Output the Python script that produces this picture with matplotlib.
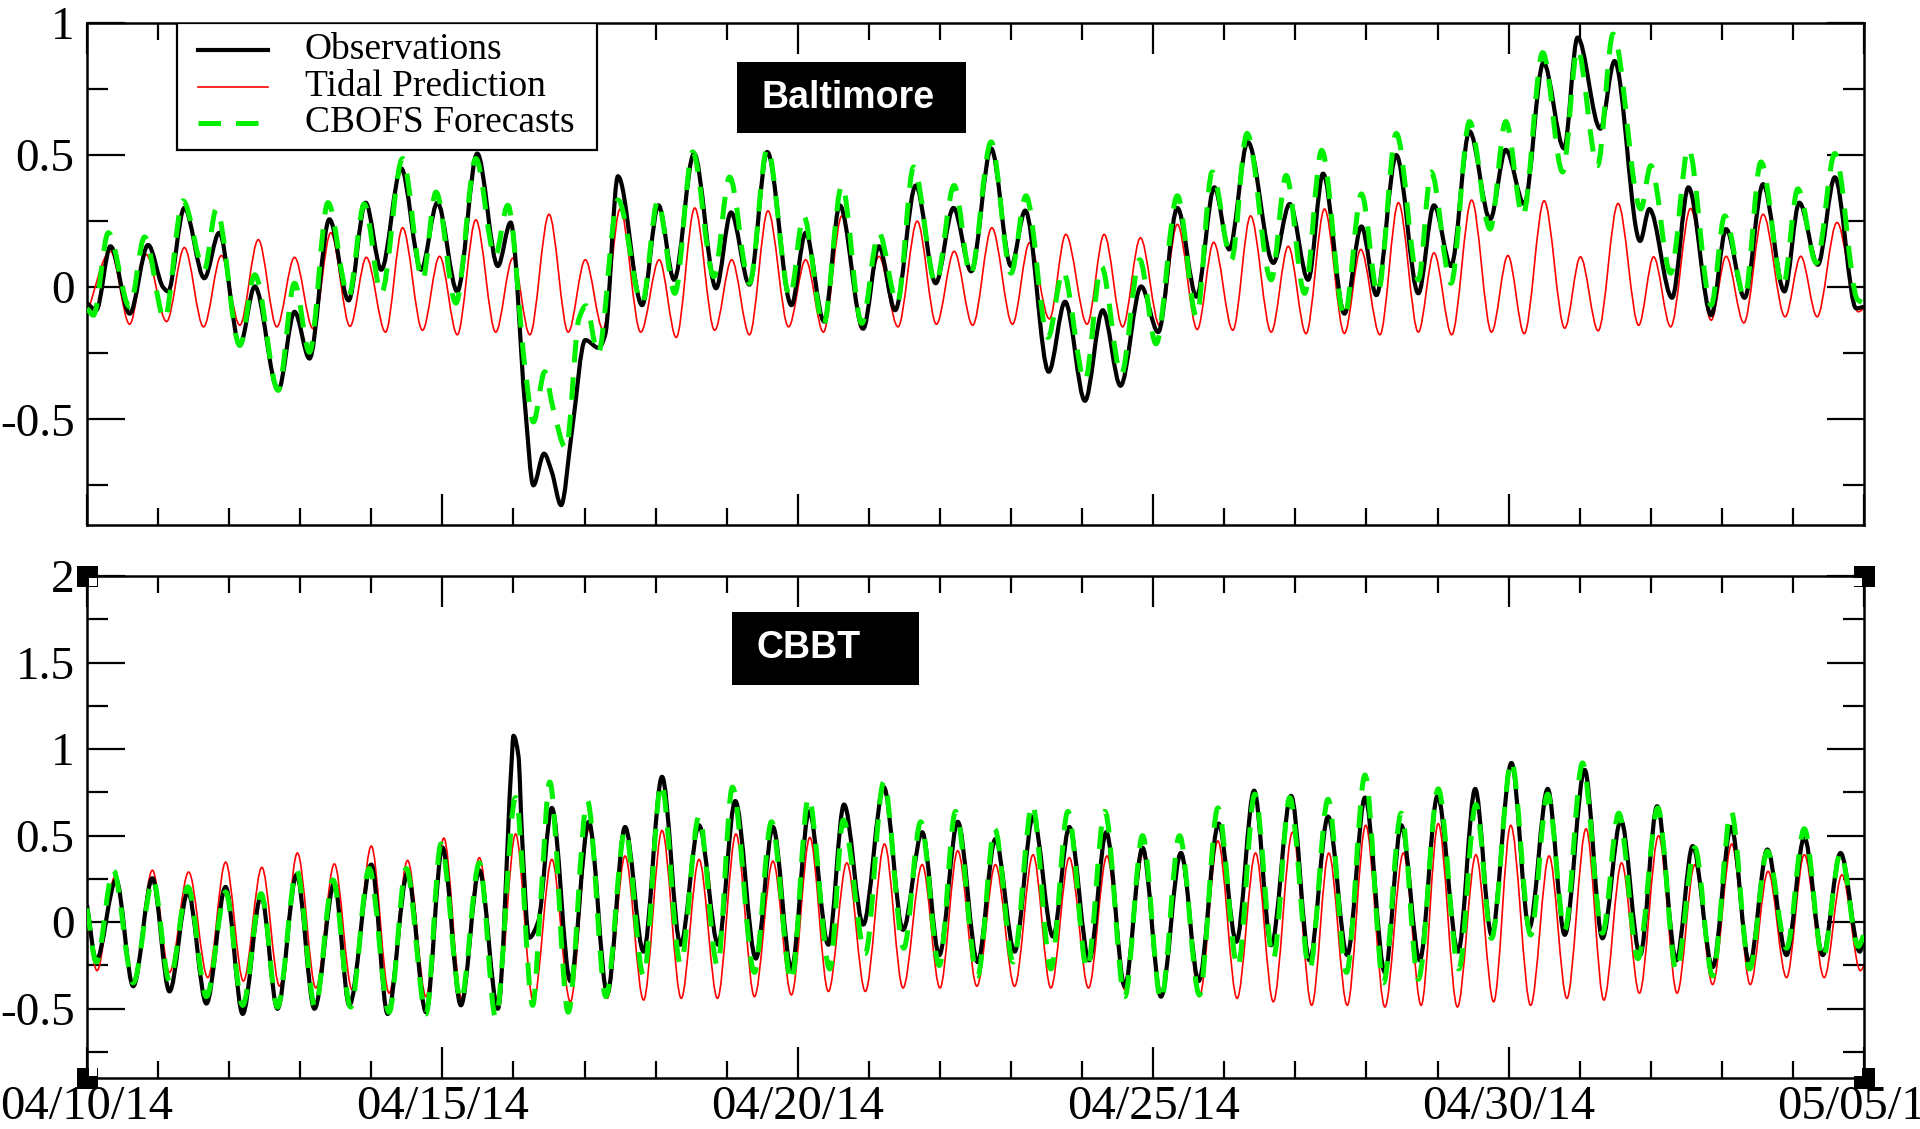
import matplotlib
matplotlib.use("Agg")
import matplotlib.pyplot as plt
from matplotlib.patches import Rectangle, PathPatch
from matplotlib.path import Path
from matplotlib.lines import Line2D
from matplotlib.ticker import MultipleLocator, FixedLocator

# ---------------- data (time in days since 04/10/14 00:00, water level in m) -------------
x_tick_days = [0, 5, 10, 15, 20, 25]
x_tick_labels = ["04/10/14", "04/15/14", "04/20/14", "04/25/14", "04/30/14", "05/05/14"]
legend_labels = ["Observations", "Tidal Prediction", "CBOFS Forecasts"]
station_names = ["Baltimore", "CBBT"]

balt_tide_t = [0.00, 0.33, 0.60, 0.83, 1.12, 1.37, 1.64, 1.89, 2.15, 2.41, 2.67, 2.92, 3.18, 3.43,
               3.70, 3.93, 4.20, 4.44, 4.72, 4.96, 5.21, 5.47, 5.75, 5.99, 6.23, 6.50, 6.77, 7.01,
               7.26, 7.50, 7.79, 8.05, 8.29, 8.55, 8.83, 9.07, 9.32, 9.58, 9.87, 10.11, 10.36,
               10.62, 10.90, 11.14, 11.41, 11.68, 11.95, 12.20, 12.46, 12.73, 13.02, 13.26, 13.54,
               13.77, 14.07, 14.31, 14.57, 14.82, 15.09, 15.34, 15.62, 15.85, 16.12, 16.37, 16.66,
               16.90, 17.15, 17.41, 17.69, 17.92, 18.19, 18.45, 18.73, 18.95, 19.20, 19.48, 19.76,
               19.99, 20.22, 20.50, 20.79, 21.01, 21.26, 21.54, 21.83, 22.04, 22.28, 22.56, 22.85,
               23.06, 23.31, 23.58, 23.89, 24.11, 24.34, 24.62, 24.92, 25.00]
balt_tide_v = [-0.10, 0.136, -0.14, 0.124, -0.13, 0.15, -0.15, 0.12, -0.144, 0.18, -0.15, 0.113,
               -0.157, 0.206, -0.148, 0.113, -0.17, 0.225, -0.163, 0.117, -0.18, 0.255, -0.17, 0.11,
               -0.18, 0.276, -0.17, 0.104, -0.16, 0.296, -0.17, 0.104, -0.19, 0.30, -0.163, 0.104,
               -0.18, 0.289, -0.15, 0.104, -0.17, 0.27, -0.16, 0.117, -0.15, 0.25, -0.14, 0.136,
               -0.144, 0.225, -0.14, 0.168, -0.12, 0.20, -0.14, 0.20, -0.15, 0.187, -0.145, 0.238,
               -0.16, 0.17, -0.163, 0.27, -0.17, 0.155, -0.176, 0.296, -0.175, 0.143, -0.18, 0.32,
               -0.17, 0.13, -0.18, 0.33, -0.17, 0.12, -0.176, 0.327, -0.155, 0.115, -0.165, 0.317,
               -0.144, 0.115, -0.15, 0.298, -0.125, 0.117, -0.135, 0.276, -0.112, 0.117, -0.112,
               0.245, -0.093, -0.08]

balt_obs_t = [0.00, 0.13, 0.33, 0.60, 0.86, 1.07, 1.14, 1.37, 1.65, 1.86, 2.15, 2.36, 2.69, 2.92,
              3.13, 3.41, 3.68, 3.92, 4.14, 4.42, 4.70, 4.93, 5.21, 5.49, 5.78, 5.96, 6.16, 6.28,
              6.43, 6.54, 6.67, 6.82, 7.01, 7.20, 7.29, 7.47, 7.81, 8.04, 8.26, 8.54, 8.85, 9.06,
              9.32, 9.57, 9.91, 10.11, 10.37, 10.59, 10.92, 11.14, 11.37, 11.66, 11.94, 12.19,
              12.44, 12.72, 13.00, 13.20, 13.53, 13.76, 14.04, 14.29, 14.54, 14.83, 15.07, 15.34,
              15.61, 15.86, 16.07, 16.33, 16.69, 16.92, 17.18, 17.39, 17.69, 17.93, 18.14, 18.42,
              18.73, 18.95, 19.19, 19.45, 19.74, 19.96, 20.22, 20.49, 20.78, 20.97, 21.29, 21.49,
              21.85, 21.98, 22.30, 22.53, 22.85, 23.06, 23.32, 23.58, 23.88, 24.09, 24.35, 24.59,
              24.89, 25.00]
balt_obs_v = [-0.06, -0.087, 0.155, -0.10, 0.16, 0.0, -0.016, 0.30, 0.034, 0.206, -0.22, 0.003,
              -0.39, -0.093, -0.27, 0.257, -0.05, 0.32, 0.066, 0.45, 0.066, 0.32, -0.016, 0.506,
              0.08, 0.245, -0.44, -0.75, -0.63, -0.70, -0.825, -0.55, -0.20, -0.23, -0.18, 0.42,
              -0.068, 0.31, 0.028, 0.506, -0.004, 0.283, 0.01, 0.512, -0.068, 0.206, -0.13, 0.31,
              -0.157, 0.155, -0.087, 0.385, 0.015, 0.30, 0.06, 0.525, 0.08, 0.29, -0.32, -0.055,
              -0.43, -0.087, -0.373, 0.003, -0.17, 0.30, -0.036, 0.378, 0.143, 0.55, 0.092, 0.315,
              0.028, 0.43, -0.10, 0.23, -0.03, 0.50, -0.023, 0.31, 0.08, 0.59, 0.257, 0.52, 0.315,
              0.85, 0.525, 0.945, 0.60, 0.856, 0.175, 0.296, -0.04, 0.378, -0.106, 0.22, -0.04,
              0.39, -0.016, 0.32, 0.085, 0.416, -0.08, -0.074]

balt_fc_t = [0.00, 0.09, 0.30, 0.60, 0.81, 1.09, 1.35, 1.65, 1.82, 2.15, 2.36, 2.69, 2.92, 3.13,
             3.39, 3.68, 3.90, 4.14, 4.44, 4.72, 4.91, 5.19, 5.47, 5.74, 5.92, 6.16, 6.28, 6.44,
             6.55, 6.74, 6.92, 7.02, 7.19, 7.47, 7.81, 8.03, 8.27, 8.52, 8.82, 9.04, 9.32, 9.57,
             9.89, 10.08, 10.36, 10.62, 10.90, 11.14, 11.40, 11.63, 11.94, 12.20, 12.43, 12.72,
             13.00, 13.21, 13.52, 13.73, 14.04, 14.27, 14.55, 14.81, 15.04, 15.34, 15.61, 15.83,
             16.10, 16.32, 16.66, 16.87, 17.13, 17.37, 17.69, 17.93, 18.16, 18.42, 18.73, 18.91,
             19.19, 19.45, 19.74, 19.96, 20.20, 20.48, 20.76, 20.97, 21.25, 21.47, 21.86, 22.00,
             22.28, 22.53, 22.85, 23.04, 23.32, 23.55, 23.86, 24.07, 24.33, 24.59, 24.91, 25.00]
balt_fc_v = [-0.08, -0.106, 0.206, -0.074, 0.19, -0.12, 0.327, 0.066, 0.296, -0.22, 0.047, -0.39,
             0.015, -0.246, 0.32, -0.036, 0.315, -0.023, 0.487, 0.028, 0.36, -0.06, 0.487, 0.117,
             0.31, -0.30, -0.51, -0.32, -0.45, -0.61, -0.12, -0.07, -0.25, 0.33, -0.06, 0.327,
             -0.023, 0.512, 0.04, 0.417, 0.015, 0.525, -0.036, 0.27, -0.144, 0.385, -0.137, 0.206,
             -0.06, 0.455, 0.015, 0.385, 0.047, 0.55, 0.053, 0.346, -0.19, 0.06, -0.354, 0.079,
             -0.33, 0.104, -0.214, 0.346, -0.112, 0.436, 0.104, 0.582, 0.028, 0.423, -0.023, 0.518,
             -0.112, 0.353, -0.023, 0.582, 0.028, 0.436, 0.015, 0.627, 0.22, 0.627, 0.27, 0.888,
             0.436, 0.90, 0.46, 0.958, 0.296, 0.46, 0.053, 0.525, -0.068, 0.27, -0.036, 0.474,
             0.003, 0.372, 0.092, 0.506, -0.048, -0.06]

cbbt_tide_t = [0.00, 0.14, 0.39, 0.65, 0.92, 1.16, 1.43, 1.70, 1.95, 2.20, 2.46, 2.71, 2.96, 3.22,
               3.48, 3.73, 4.00, 4.25, 4.51, 4.77, 5.02, 5.27, 5.52, 5.78, 6.03, 6.28, 6.54, 6.80,
               7.06, 7.32, 7.57, 7.83, 8.09, 8.36, 8.61, 8.87, 9.13, 9.39, 9.65, 9.91, 10.17, 10.43,
               10.69, 10.95, 11.22, 11.48, 11.75, 12.00, 12.25, 12.52, 12.78, 13.05, 13.31, 13.56,
               13.82, 14.09, 14.35, 14.60, 14.87, 15.11, 15.38, 15.65, 15.91, 16.18, 16.44, 16.69,
               16.96, 17.23, 17.47, 17.73, 17.99, 18.26, 18.52, 18.77, 19.01, 19.28, 19.54, 19.79,
               20.03, 20.31, 20.57, 20.82, 21.09, 21.34, 21.59, 21.84, 22.11, 22.37, 22.62, 22.87,
               23.14, 23.40, 23.65, 23.91, 24.16, 24.44, 24.69, 24.95, 25.00]
cbbt_tide_v = [0.05, -0.28, 0.26, -0.36, 0.30, -0.29, 0.29, -0.32, 0.347, -0.34, 0.317, -0.37,
               0.40, -0.38, 0.337, -0.39, 0.44, -0.41, 0.357, -0.43, 0.486, -0.44, 0.373, -0.46,
               0.51, -0.46, 0.363, -0.46, 0.54, -0.44, 0.383, -0.45, 0.53, -0.44, 0.363, -0.44,
               0.51, -0.43, 0.353, -0.42, 0.49, -0.40, 0.343, -0.40, 0.452, -0.38, 0.333, -0.38,
               0.413, -0.37, 0.333, -0.37, 0.39, -0.38, 0.373, -0.38, 0.383, -0.39, 0.42, -0.41,
               0.39, -0.43, 0.47, -0.44, 0.40, -0.46, 0.52, -0.48, 0.40, -0.48, 0.56, -0.49, 0.40,
               -0.48, 0.57, -0.49, 0.39, -0.46, 0.56, -0.48, 0.383, -0.44, 0.54, -0.45, 0.343,
               -0.41, 0.50, -0.41, 0.333, -0.36, 0.452, -0.36, 0.294, -0.32, 0.39, -0.32, 0.274,
               -0.28, -0.25]

cbbt_obs_t = [0.00, 0.13, 0.41, 0.65, 0.92, 1.16, 1.42, 1.68, 1.95, 2.19, 2.45, 2.68, 2.95, 3.20,
              3.48, 3.69, 4.00, 4.23, 4.51, 4.77, 5.00, 5.26, 5.52, 5.78, 5.97, 6.00, 6.07, 6.12,
              6.22, 6.35, 6.54, 6.80, 7.06, 7.32, 7.57, 7.83, 8.09, 8.35, 8.61, 8.88, 9.12, 9.41,
              9.65, 9.91, 10.16, 10.43, 10.65, 10.92, 11.21, 11.48, 11.75, 11.99, 12.25, 12.53,
              12.78, 13.05, 13.31, 13.59, 13.82, 14.10, 14.34, 14.60, 14.85, 15.11, 15.39, 15.64,
              15.92, 16.17, 16.42, 16.66, 16.94, 17.20, 17.46, 17.73, 17.98, 18.26, 18.49, 18.75,
              19.00, 19.29, 19.53, 19.76, 20.04, 20.29, 20.55, 20.79, 21.07, 21.32, 21.58, 21.85,
              22.09, 22.36, 22.59, 22.87, 23.13, 23.39, 23.64, 23.91, 24.16, 24.42, 24.67, 24.94,
              25.00]
cbbt_obs_v = [0.10, -0.22, 0.244, -0.37, 0.254, -0.40, 0.175, -0.47, 0.204, -0.53, 0.155, -0.50,
              0.274, -0.50, 0.224, -0.48, 0.333, -0.53, 0.284, -0.52, 0.432, -0.48, 0.30, -0.50,
              0.90, 1.077, 0.96, 0.50, -0.09, 0.006, 0.66, -0.34, 0.58, -0.41, 0.55, -0.17, 0.84,
              -0.13, 0.56, -0.13, 0.70, -0.21, 0.55, -0.27, 0.64, -0.13, 0.68, -0.014, 0.78, -0.044,
              0.52, -0.19, 0.58, -0.23, 0.48, -0.17, 0.61, -0.083, 0.55, -0.22, 0.52, -0.37, 0.43,
              -0.43, 0.40, -0.34, 0.57, -0.113, 0.76, -0.133, 0.73, -0.22, 0.61, -0.19, 0.72, -0.29,
              0.56, -0.22, 0.73, -0.17, 0.77, -0.073, 0.92, -0.034, 0.77, -0.073, 0.88, -0.093,
              0.59, -0.19, 0.67, -0.22, 0.44, -0.26, 0.55, -0.24, 0.42, -0.19, 0.49, -0.19, 0.40,
              -0.17, -0.09]

cbbt_fc_t = [0.00, 0.13, 0.37, 0.65, 0.93, 1.16, 1.42, 1.68, 1.95, 2.19, 2.45, 2.68, 2.95, 3.21,
             3.46, 3.71, 3.97, 4.25, 4.49, 4.77, 4.98, 5.26, 5.52, 5.75, 6.03, 6.27, 6.38, 6.51,
             6.77, 7.04, 7.30, 7.57, 7.83, 8.08, 8.35, 8.61, 8.87, 9.08, 9.39, 9.63, 9.91, 10.15,
             10.45, 10.64, 10.95, 11.21, 11.49, 11.73, 11.99, 12.22, 12.53, 12.77, 13.03, 13.30,
             13.56, 13.80, 14.07, 14.32, 14.60, 14.85, 15.11, 15.37, 15.65, 15.91, 16.19, 16.43,
             16.69, 16.92, 17.20, 17.46, 17.72, 17.98, 18.24, 18.49, 18.73, 19.01, 19.30, 19.54,
             19.76, 20.04, 20.31, 20.55, 20.79, 21.04, 21.32, 21.55, 21.82, 22.10, 22.36, 22.62,
             22.87, 23.13, 23.39, 23.64, 23.91, 24.16, 24.42, 24.67, 24.92, 25.00]
cbbt_fc_v = [0.08, -0.23, 0.30, -0.35, 0.244, -0.34, 0.204, -0.43, 0.175, -0.48, 0.165, -0.49,
             0.30, -0.49, 0.244, -0.49, 0.31, -0.52, 0.31, -0.53, 0.452, -0.45, 0.343, -0.55,
             0.72, -0.48, 0.10, 0.81, -0.52, 0.70, -0.43, 0.53, -0.31, 0.80, -0.24, 0.61, -0.25,
             0.78, -0.29, 0.58, -0.34, 0.72, -0.27, 0.59, -0.18, 0.81, -0.15, 0.58, -0.25, 0.64,
             -0.31, 0.54, -0.23, 0.68, -0.27, 0.64, -0.27, 0.64, -0.43, 0.50, -0.45, 0.50, -0.42,
             0.66, -0.26, 0.74, -0.21, 0.72, -0.27, 0.71, -0.29, 0.85, -0.35, 0.63, -0.33, 0.77,
             -0.27, 0.68, -0.093, 0.93, -0.073, 0.74, -0.044, 0.92, -0.063, 0.63, -0.21, 0.66,
             -0.28, 0.43, -0.31, 0.64, -0.27, 0.41, -0.15, 0.54, -0.21, 0.40, -0.14, -0.07]

# ---------------- figure ----------------
plt.rcParams['axes.unicode_minus'] = False
SERIF = ['Liberation Serif', 'DejaVu Serif']
SANS = ['Liberation Sans', 'DejaVu Sans']

W, H = 1920, 1129
fig = plt.figure(figsize=(W / 100, H / 100), dpi=100)


def px_rect(x0, y0, x1, y1):
    return [x0 / W, 1 - y1 / H, (x1 - x0) / W, (y1 - y0) / H]


L, R = 87, 1864
ax1 = fig.add_axes(px_rect(L, 23, R, 525))
ax2 = fig.add_axes(px_rect(L, 576, R, 1078))

OBS_STYLE = dict(color='black', lw=3.0)
TIDE_STYLE = dict(color='#ff0000', lw=1.2)
FC_STYLE = dict(color='#00f000', lw=3.6, dashes=(4.5, 3.0))


def smooth_curve(t, v):
    """Smooth (monotone cubic) rendering of a line through the read points,
    drawn as a Bezier path in data coordinates."""
    n = len(t)
    d = [(v[i + 1] - v[i]) / (t[i + 1] - t[i]) for i in range(n - 1)]
    m = [0.0] * n
    m[0], m[-1] = d[0], d[-1]
    for i in range(1, n - 1):
        if d[i - 1] * d[i] <= 0:
            m[i] = 0.0
        else:
            h0, h1 = t[i] - t[i - 1], t[i + 1] - t[i]
            m[i] = 3 * (h0 + h1) / ((2 * h1 + h0) / d[i - 1] + (h1 + 2 * h0) / d[i])
    verts, codes = [(t[0], v[0])], [Path.MOVETO]
    for i in range(n - 1):
        h = t[i + 1] - t[i]
        verts += [(t[i] + h / 3, v[i] + m[i] * h / 3),
                  (t[i + 1] - h / 3, v[i + 1] - m[i + 1] * h / 3),
                  (t[i + 1], v[i + 1])]
        codes += [Path.CURVE4] * 3
    return Path(verts, codes)


def add_series(ax, t, v, style, z):
    kw = dict(style)
    dashes = kw.pop('dashes', None)
    ls = (0, dashes) if dashes else '-'
    ax.add_patch(PathPatch(smooth_curve(t, v), facecolor='none', edgecolor=kw['color'],
                           lw=kw['lw'], linestyle=ls, capstyle='butt', joinstyle='round',
                           zorder=z))


def draw(ax, tide_t, tide_v, obs_t, obs_v, fc_t, fc_v):
    add_series(ax, tide_t, tide_v, TIDE_STYLE, 2)
    add_series(ax, obs_t, obs_v, OBS_STYLE, 3)
    add_series(ax, fc_t, fc_v, FC_STYLE, 4)


draw(ax1, balt_tide_t, balt_tide_v, balt_obs_t, balt_obs_v, balt_fc_t, balt_fc_v)
draw(ax2, cbbt_tide_t, cbbt_tide_v, cbbt_obs_t, cbbt_obs_v, cbbt_fc_t, cbbt_fc_v)


def style(ax, ylim, yticks, ylabels, show_xlabels):
    ax.set_xlim(0, 25)
    ax.set_ylim(*ylim)
    ax.xaxis.set_major_locator(FixedLocator(x_tick_days))
    ax.xaxis.set_minor_locator(MultipleLocator(1))
    ax.set_yticks(yticks)
    ax.set_yticklabels(ylabels, fontfamily=SERIF, fontsize=34)
    ax.yaxis.set_minor_locator(MultipleLocator(0.25))
    if show_xlabels:
        ax.set_xticklabels(x_tick_labels, fontfamily=SERIF, fontsize=35)
    else:
        ax.set_xticklabels([])
    ax.tick_params(axis='x', which='major', direction='in', length=22, width=1.6,
                   top=True, bottom=True, pad=5)
    ax.tick_params(axis='x', which='minor', direction='in', length=12, width=1.6,
                   top=True, bottom=True)
    ax.tick_params(axis='y', which='major', direction='in', length=27, width=1.6,
                   left=True, right=True, pad=9)
    ax.tick_params(axis='y', which='minor', direction='in', length=15, width=1.6,
                   left=True, right=True)
    for sp in ax.spines.values():
        sp.set_linewidth(1.8)


style(ax1, (-0.9, 1.0), [-0.5, 0, 0.5, 1.0], ["-0.5", "0", "0.5", "1"], False)
style(ax2, (-0.9, 2.0), [-0.5, 0, 0.5, 1.0, 1.5, 2.0], ["-0.5", "0", "0.5", "1", "1.5", "2"], True)

# ---------------- legend (top panel, manual to match layout) ----------------
aw, ah = R - L, 525 - 23


def ax1_x(px):
    return (px - L) / aw


def ax1_y(py):
    return 1 - (py - 23) / ah


ax1.add_patch(Rectangle((ax1_x(177), ax1_y(150)), ax1_x(597) - ax1_x(177), ax1_y(23) - ax1_y(150),
                        transform=ax1.transAxes, facecolor='white', edgecolor='black', lw=1.6,
                        zorder=10))
for row_y, style_kw, lab in zip([50, 87, 123], [OBS_STYLE, TIDE_STYLE, FC_STYLE], legend_labels):
    ax1.add_line(Line2D([ax1_x(198), ax1_x(268)], [ax1_y(row_y)] * 2, transform=ax1.transAxes,
                        zorder=11, **style_kw))
    ax1.text(ax1_x(305), ax1_y(row_y), lab, transform=ax1.transAxes, fontfamily=SERIF,
             fontsize=27, va='center', ha='left', zorder=11)

# ---------------- station labels ----------------
for name, (x0, y0, x1, y1), tx in zip(station_names,
                                      [(737, 62, 966, 133), (732, 612, 919, 685)],
                                      [762, 756]):
    fig.add_artist(Rectangle((x0 / W, 1 - y1 / H), (x1 - x0) / W, (y1 - y0) / H,
                             transform=fig.transFigure, facecolor='black', edgecolor='none',
                             zorder=20))
    fig.text(tx / W, 1 - ((y0 + y1) / 2) / H, name, color='white', fontfamily=SANS,
             fontweight='bold', fontsize=27, ha='left', va='center', zorder=21)

# ---------------- corner handles on the lower panel ----------------
for cx, cy, sx, sy in [(L, 576, 1, 1), (R, 576, -1, 1), (L, 1078, 1, -1), (R, 1078, -1, -1)]:
    s = 21
    fig.add_artist(Rectangle(((cx - s / 2) / W, 1 - (cy + s / 2) / H), s / W, s / H,
                             transform=fig.transFigure, facecolor='black', edgecolor='none',
                             zorder=20))
    w = 8
    wx = cx + 2 if sx > 0 else cx - 2 - w
    wy = cy + 2 if sy > 0 else cy - 2 - w
    fig.add_artist(Rectangle((wx / W, 1 - (wy + w) / H), w / W, w / H,
                             transform=fig.transFigure, facecolor='white', edgecolor='none',
                             zorder=21))

fig.savefig("out.png", dpi=100)
